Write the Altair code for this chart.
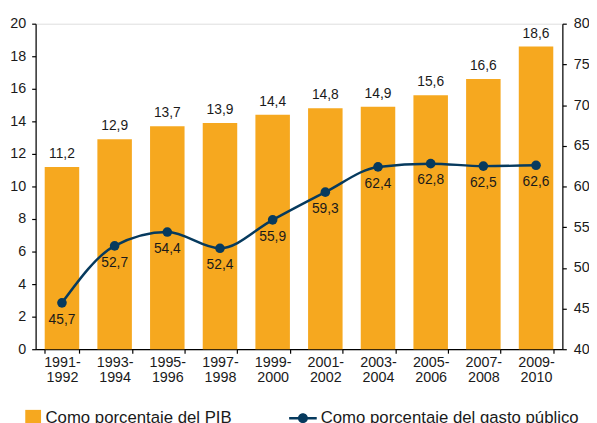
import altair as alt
import pandas as pd

periodos = ["1991-1992", "1993-1994", "1995-1996", "1997-1998", "1999-2000",
            "2001-2002", "2003-2004", "2005-2006", "2007-2008", "2009-2010"]
pib = [11.2, 12.9, 13.7, 13.9, 14.4, 14.8, 14.9, 15.6, 16.6, 18.6]
gasto = [45.7, 52.7, 54.4, 52.4, 55.9, 59.3, 62.4, 62.8, 62.5, 62.6]
serie_pib = "Como porcentaje del PIB"
serie_gasto = "Como porcentaje del gasto público"

ORANGE = "#F6A81F"
NAVY = "#063A5E"
TXT = "#1a1a1a"
FONT = "Liberation Sans"

df = pd.DataFrame({"periodo": periodos, "pib": pib, "gasto": gasto})
df["s_pib"] = serie_pib
df["s_gasto"] = serie_gasto

base = alt.Chart(df).transform_calculate(
    lab_pib="replace(format(datum.pib, '.1f'), '.', ',')",
    lab_gasto="replace(format(datum.gasto, '.1f'), '.', ',')",
)

x = alt.X(
    "periodo:N", sort=periodos, title=None,
    scale=alt.Scale(paddingInner=0.345, paddingOuter=0.1725),
    axis=alt.Axis(
        labelAngle=0,
        labelExpr="[slice(datum.label, 0, 5), slice(datum.label, 5)]",
        tickBand="extent", tickSize=4, tickColor="black", domainColor="black",
        domainWidth=1.2, tickWidth=1.2,
        labelFontSize=14.5, labelColor=TXT, labelFont=FONT, labelPadding=3,
        labelLineHeight=15,
    ),
)

y_left = alt.Y(
    "pib:Q", title=None,
    scale=alt.Scale(domain=[0, 20], nice=False, zero=True),
    axis=alt.Axis(values=list(range(0, 21, 2)), grid=False, tickSize=4,
                  tickColor="black", domainColor="black", domainWidth=1.2,
                  tickWidth=1.2, labelFontSize=14.5, labelColor=TXT,
                  labelFont=FONT, labelPadding=6),
)
y_right = alt.Y(
    "gasto:Q", title=None,
    scale=alt.Scale(domain=[40, 80], nice=False, zero=False),
    axis=alt.Axis(orient="right", values=list(range(40, 81, 5)), grid=False,
                  tickSize=4, tickColor="black", domainColor="black",
                  domainWidth=1.2, tickWidth=1.2, labelFontSize=14.5,
                  labelColor=TXT, labelFont=FONT, labelPadding=7),
)

bars = base.mark_bar().encode(
    x=x, y=y_left,
    color=alt.Color("s_pib:N", scale=alt.Scale(domain=[serie_pib], range=[ORANGE]),
                    legend=alt.Legend(title=None, orient="none", legendX=-11,
                                      legendY=391, symbolType="square",
                                      symbolSize=256, symbolOpacity=1,
                                      labelFontSize=17, labelFont=FONT,
                                      labelColor=TXT, labelLimit=400,
                                      padding=0, symbolStrokeWidth=0)),
)
bar_lbl = base.mark_text(baseline="bottom", dy=-6, fontSize=14, font=FONT,
                         color=TXT).encode(x=x, y=y_left, text="lab_pib:N")

line = base.mark_line(interpolate="monotone", color=NAVY, strokeWidth=2.5).encode(
    x=x, y=y_right)
LEG_PATH = ("M-1,-0.09L-0.34,-0.09L-0.34,0.09L-1,0.09Z "
            "M0.34,-0.09L1,-0.09L1,0.09L0.34,0.09Z "
            "M0.36,0A0.36,0.36 0 1,1 -0.36,0A0.36,0.36 0 1,1 0.36,0Z")
pts = base.mark_circle(size=95, opacity=1).encode(
    x=x, y=y_right,
    color=alt.Color("s_gasto:N", scale=alt.Scale(domain=[serie_gasto], range=[NAVY]),
                    legend=alt.Legend(title=None, orient="none", legendX=257,
                                      legendY=386, symbolType=LEG_PATH,
                                      symbolSize=784, symbolOpacity=1,
                                      labelFontSize=17, labelFont=FONT,
                                      labelColor=TXT, labelLimit=400,
                                      padding=0, symbolStrokeWidth=0,
                                      labelOffset=4)),
)
line_lbl = base.mark_text(baseline="top", dy=10, fontSize=14, font=FONT,
                          color=TXT).encode(x=x, y=y_right, text="lab_gasto:N")

left = alt.layer(bars, bar_lbl)
right = alt.layer(line, pts, line_lbl)

chart = alt.layer(left, right).resolve_scale(
    y="independent", color="independent"
).properties(
    width=534, height=330,
    autosize=alt.AutoSizeParams(type="none"),
    padding={"left": 28, "top": 13, "right": 27, "bottom": 80},
).configure_view(stroke=None).configure(background="white")

chart.save("out.html", embed_options={"renderer": "svg", "actions": False})
